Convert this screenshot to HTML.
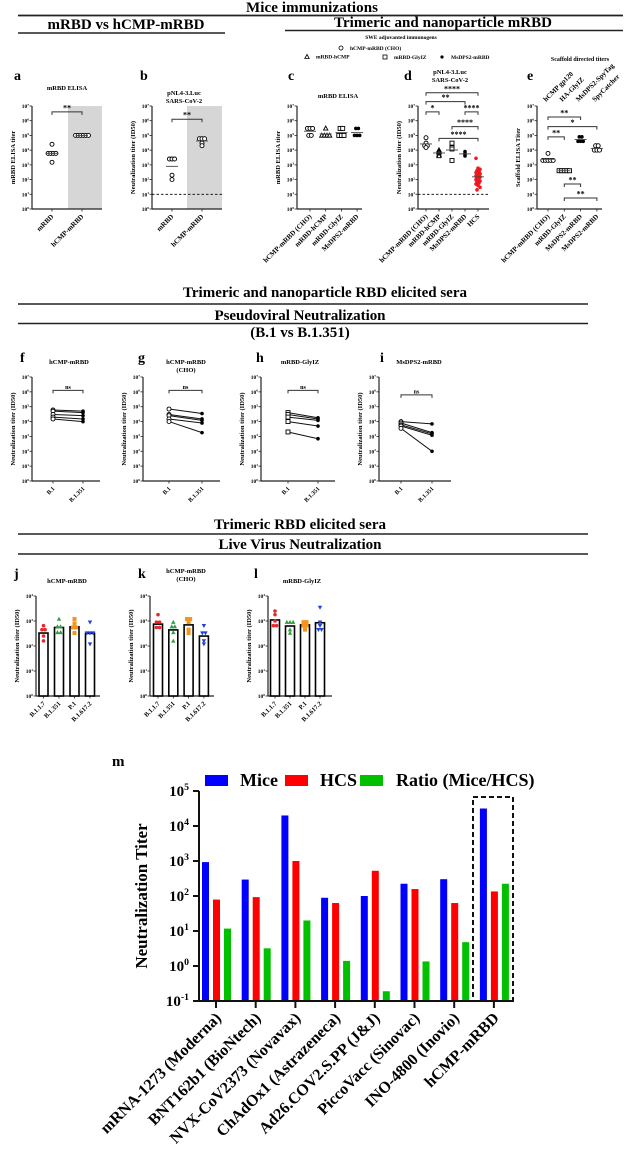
<!DOCTYPE html>
<html><head><meta charset="utf-8"><style>
html,body{margin:0;padding:0;background:#fff}
svg{display:block;font-family:"Liberation Serif",serif;font-weight:bold}
</style></head><body>
<svg id="fig" width="625" height="1163" viewBox="0 0 625 1163" xmlns="http://www.w3.org/2000/svg">
<g>
<text x="312" y="12" text-anchor="middle" font-size="15" textLength="132">Mice immunizations</text>
<line x1="18" y1="15.5" x2="623" y2="15.5" stroke="#222" stroke-width="1.8"/>
<text x="126" y="29" text-anchor="middle" font-size="15" textLength="157">mRBD vs hCMP-mRBD</text>
<line x1="18" y1="33" x2="225" y2="33" stroke="#222" stroke-width="1.5"/>
<text x="443" y="27" text-anchor="middle" font-size="15" textLength="218">Trimeric and nanoparticle mRBD</text>
<line x1="285" y1="30.5" x2="623" y2="30.5" stroke="#222" stroke-width="1.5"/>
<text x="401" y="39" text-anchor="middle" font-size="5.5">SWE adjuvanted immunogens</text>
<circle cx="341" cy="48" r="2" fill="none" stroke="#000" stroke-width="0.8"/><text x="350" y="50" font-size="5.5">hCMP-mRBD (CHO)</text>
<path d="M307,54.5 L309.2,58.5 L304.8,58.5Z" fill="none" stroke="#000" stroke-width="0.8"/><text x="316" y="58.5" font-size="5.5">mRBD-hCMP</text>
<rect x="383" y="55" width="4" height="4" fill="none" stroke="#000" stroke-width="0.8"/><text x="394" y="59" font-size="5.5">mRBD-GlyIZ</text>
<circle cx="442" cy="57" r="1.6" fill="#000"/><text x="451" y="59" font-size="5.5">MsDPS2-mRBD</text>
<text x="580" y="61" text-anchor="middle" font-size="6">Scaffold directed titers</text>
<text x="325" y="297" text-anchor="middle" font-size="15" textLength="284">Trimeric and nanoparticle RBD elicited sera</text>
<line x1="18" y1="304" x2="588" y2="304" stroke="#222" stroke-width="1.6"/>
<text x="300" y="320" text-anchor="middle" font-size="15" textLength="171">Pseudoviral Neutralization</text>
<line x1="18" y1="323.5" x2="588" y2="323.5" stroke="#222" stroke-width="1.6"/>
<text x="300" y="337" text-anchor="middle" font-size="15">(B.1 vs B.1.351)</text>
<text x="300" y="529" text-anchor="middle" font-size="15" textLength="172">Trimeric RBD elicited sera</text>
<line x1="18" y1="534" x2="588" y2="534" stroke="#222" stroke-width="1.6"/>
<text x="300" y="549" text-anchor="middle" font-size="15" textLength="163">Live Virus Neutralization</text>
<line x1="18" y1="554" x2="588" y2="554" stroke="#222" stroke-width="1.6"/>
</g>
<g id="panels"></g>
</svg>
<script>
// ---------- data (titers) ----------
const aCats=["mRBD","hCMP-mRBD"];
const aVals=[[25000,6000,6000,6000,6000,1500],[1e5,1e5,1e5,1e5,1e5,1e5]];
const bCats=["mRBD","hCMP-mRBD"];
const bVals=[[2500,2500,2500,200,100],[60000,60000,60000,30000,20000]];
const cCats=["hCMP-mRBD (CHO)","mRBD-hCMP","mRBD-GlyIZ","MsDPS2-mRBD"];
const cVals=[[3e5,3e5,3e5,1e5,1e5],[3e5,1e5,1e5,1e5,1e5],[3e5,3e5,1e5,1e5,1e5],[3e5,3e5,1e5,1e5,1e5]];
const dCats=["hCMP-mRBD (CHO)","mRBD-hCMP","mRBD-GlyIZ","MsDPS2-mRBD","HCS"];
const dVals=[[70000,30000,20000,20000,15000],[10000,8000,7000,5000,4000],[30000,15000,12000,2000],[8000,6000,5000,4000],
 [2800,600,500,400,350,300,280,250,220,200,180,160,150,130,120,100,90,80,70,60,50,40,30,20]];
const eCats=["hCMP-mRBD (CHO)","mRBD-GlyIZ","MsDPS2-mRBD","MsDPS2-mRBD"];
const eTopCats=["hCMP gp120","HA-GlyIZ","MsDPS2-SpyTag","SpyCatcher"];
const eVals=[[6000,2000,2000,2000,2000,2000],[400,400,400,400,400],[80000,80000,40000,40000,40000],[20000,20000,10000,10000,10000]];
const pairCats=["B.1","B.1.351"];
const fB1=[60000,50000,30000,20000,15000], fB1351=[50000,40000,25000,15000,10000];
const gB1=[70000,30000,25000,15000,10000], gB1351=[35000,15000,12000,8000,1800];
const hB1=[40000,30000,20000,10000,2000], hB1351=[18000,15000,12000,5000,700];
const iB1=[10000,8000,6000,5000,3500], iB1351=[7000,1800,1500,1200,100];
const liveCats=["B.1.1.7","B.1.351","P.1","B.1.617.2"];
const jMeans=[330,550,580,320];
const jPts=[[650,450,450,250,160],[1200,600,600,350,350],[1200,800,550,550,330],[900,330,330,330,120]];
const kMeans=[750,440,700,250];
const kPts=[[1800,900,900,550,550],[900,600,600,350,160],[1200,1200,900,450,330],[650,330,330,160,120]];
const lMeans=[1100,630,700,850];
const lPts=[[2500,1800,1000,650,650],[900,900,900,450,330],[900,900,650,650,450],[3500,900,650,450,450]];
const mCats=["mRNA-1273 (Moderna)","BNT162b1 (BioNtech)","NVX-CoV2373 (Novavax)","ChAdOx1 (Astrazeneca)","Ad26.COV2.S.PP (J&J)","PiccoVacc (Sinovac)","INO-4800 (Inovio)","hCMP-mRBD"];
const mMice=[930,295,20000,89,100,224,302,31600];
const mHCS=[79,93,1000,63,525,158,63,135];
const mRatio=[11.7,3.2,20,1.4,0.19,1.35,4.8,224];
const mTicks=[-1,0,1,2,3,4,5];
const liveColors=["#e8262b","#2e9e3e","#f7941d","#1f3fdb"];

// ---------- helpers ----------
const NS="http://www.w3.org/2000/svg";
const root=document.getElementById('panels');
function el(tag,attrs,parent){const e=document.createElementNS(NS,tag);for(const k in attrs)e.setAttribute(k,attrs[k]);(parent||root).appendChild(e);return e;}
function txt(x,y,s,size,anchor,parent,extra){const t=el('text',Object.assign({x:x,y:y,'font-size':size,'text-anchor':anchor||'start'},extra||{}),parent);t.textContent=s;return t;}
function pow(x,y,e,size,parent){const t=el('text',{x:x,y:y,'font-size':size,'text-anchor':'end'},parent);
 const a=document.createElementNS(NS,'tspan');a.textContent='10';t.appendChild(a);
 const b=document.createElementNS(NS,'tspan');b.setAttribute('dy',-size*0.4);b.setAttribute('font-size',size*0.65);b.textContent=e;t.appendChild(b);return t;}
function yScale(top,bot,minE,maxE){return v=>bot-(Math.log10(v)-minE)/(maxE-minE)*(bot-top);}
function axes(g,L,minE,maxE,cats,ytitle,fs){
 const y=yScale(L.top,L.bot,minE,maxE);
 el('line',{x1:L.ax,y1:L.top,x2:L.ax,y2:L.bot,stroke:'#222','stroke-width':1.2},g);
 el('line',{x1:L.ax,y1:L.bot,x2:L.end,y2:L.bot,stroke:'#222','stroke-width':1.2},g);
 for(let e=minE;e<=maxE;e++){const yy=y(Math.pow(10,e));
  el('line',{x1:L.ax-2.5,y1:yy,x2:L.ax,y2:yy,stroke:'#222','stroke-width':0.8},g);
  pow(L.ax-3,yy+2,e,5.5,g);}
 cats.forEach((c,i)=>{const cx=L.cx(i);
  el('line',{x1:cx,y1:L.bot,x2:cx,y2:L.bot+2.5,stroke:'#222','stroke-width':0.8},g);
  const t=txt(cx+2,L.bot+8,c,fs||7,'end',g,{transform:`rotate(-45 ${cx+2} ${L.bot+8})`});
  
  });
 const yt=txt(L.ax-17,(L.top+L.bot)/2,ytitle,6.5,'middle',g,{transform:`rotate(-90 ${L.ax-17} ${(L.top+L.bot)/2})`});
 
 
 return y;}
function marker(g,type,x,y,color){
 color=color||'#000';
 if(type==='o')return el('circle',{cx:x,cy:y,r:2,fill:'#fff',stroke:color,'stroke-width':0.9},g);
 if(type==='t')return el('path',{d:`M${x},${y-2.3} L${x+2.2},${y+1.7} L${x-2.2},${y+1.7}Z`,fill:'#fff',stroke:color,'stroke-width':0.9},g);
 if(type==='s')return el('rect',{x:x-2,y:y-2,width:4,height:4,fill:'#fff',stroke:color,'stroke-width':0.9},g);
 if(type==='T')return el('path',{d:`M${x},${y-2.3} L${x+2.2},${y+1.7} L${x-2.2},${y+1.7}Z`,fill:color},g);
 if(type==='V')return el('path',{d:`M${x},${y+2.3} L${x+2.2},${y-1.7} L${x-2.2},${y-1.7}Z`,fill:color},g);
 if(type==='S')return el('rect',{x:x-2,y:y-2,width:4,height:4,fill:color},g);
 return el('circle',{cx:x,cy:y,r:1.8,fill:color},g);}
function spread(n,i,w){return n<=1?0:(i-(n-1)/2)*w;}
function jitter(vals,i){
 const same=vals.filter(v=>v===vals[i]).length; const idx=vals.slice(0,i).filter(v=>v===vals[i]).length;
 return spread(same,idx,2.6);}
function gmean(a){return Math.pow(10,a.reduce((s,v)=>s+Math.log10(v),0)/a.length);}
function sig(g,L,y,i,j,lev,label){const yy=L.top+(L.bot-L.top)*(1-lev/7);
 const x1=L.cx(i),x2=L.cx(j);
 el('path',{d:`M${x1},${yy+3} V${yy} H${x2} V${yy+3}`,fill:'none',stroke:'#333','stroke-width':1},g);
 txt((x1+x2)/2,yy-1.5,label,label==='ns'?6:8,'middle',g);}
function scatterPanel(name,L,cats,vals,types,title,ytitle,opts){
 const g=el('g',{});
 
 
 opts=opts||{};
 if(opts.shade){el('rect',{x:opts.shade[0],y:L.top,width:opts.shade[1]-opts.shade[0],height:L.bot-L.top,fill:'#d6d6d6'},g);}
 const y=axes(g,L,0,7,cats,ytitle,7);
 if(opts.dash)el('line',{x1:L.ax,y1:y(10),x2:L.end,y2:y(10),stroke:'#000','stroke-width':0.9,'stroke-dasharray':'2.5,2'},g);
 vals.forEach((arr,i)=>{const cx=L.cx(i);
  arr.forEach((v,k)=>{const m=marker(g,types[i],cx+jitter(arr,k)+(opts.hcs&&i===4?((k*7)%5-2):0),y(v),opts.hcs&&i===4?'#f0181c':null);
   
   });
  const gm=gmean(arr);
  el('line',{x1:cx-6,y1:y(gm),x2:cx+6,y2:y(gm),stroke:'#444','stroke-width':0.9},g);});
 (title||[]).forEach((t,k)=>txt(opts.tx,opts.ty+k*8,t,6.5,'middle',g));
 (opts.sig||[]).forEach(s=>sig(g,L,y,s[0],s[1],s[2],s[3]));
 txt(opts.lx,opts.ly,opts.letter,14,'start',g);
 return g;}

function lay(ax,end,c0,step,top,bot){return {ax:ax,end:end,top:top,bot:bot,cx:i=>c0+i*step};}
scatterPanel('panel-a',lay(32,102,52,30,106,209),aCats,aVals,['o','o'],['mRBD ELISA'],'mRBD ELISA titer',
 {shade:[68,102],tx:67,ty:90,sig:[[0,1,6.6,'**']],lx:14,ly:80,letter:'a'});
scatterPanel('panel-b',lay(152,222,172,30,106,209),bCats,bVals,['o','o'],['pNL4-3.Luc','SARS-CoV-2'],'Neutralization titer (ID50)',
 {shade:[187,222],dash:true,tx:184,ty:95,sig:[[0,1,6.1,'**']],lx:140,ly:80,letter:'b'});
scatterPanel('panel-c',lay(297,362,310,15.7,106,209),cCats,cVals,['o','t','s','d'],['mRBD ELISA'],'mRBD ELISA titer',
 {tx:338,ty:98,lx:288,ly:80,letter:'c'});
scatterPanel('panel-d',lay(418,489,426,13,106,209),dCats,dVals,['o','t','s','d','d'],['pNL4-3.Luc','SARS-CoV-2'],'Neutralization titer (ID50)',
 {hcs:true,dash:true,tx:450,ty:74,lx:404,ly:80,letter:'d',sig:[[0,4,7.9,'****'],[0,3,7.3,'**'],[0,1,6.6,'*'],[3,4,6.6,'****'],[2,4,5.6,'****'],[1,4,4.8,'****']]});
const gE=scatterPanel('panel-e',lay(537,602,548,16.3,106,209),eCats,eVals,['o','s','d','o'],[],'Scaffold ELISA Titer',
 {lx:527,ly:80,letter:'e',sig:[[0,2,6.25,'**'],[0,3,5.6,'*'],[0,1,4.9,'**'],[1,2,1.7,'**'],[1,3,0.75,'**']]});
eTopCats.forEach((c,i)=>{const x=548+i*16.3;const t=txt(x-2,102,c,7,'start',gE,{transform:`rotate(-45 ${x-2} 102)`});
 
 });

function pairPanel(name,L,b1,b2,type,title,letter,lx,ly,tx,nsLev){
 const g=el('g',{});
 
 
 const y=axes(g,L,0,7,pairCats,'Neutralization titer (ID50)',6);
 b1.forEach((v,k)=>{const l=el('line',{x1:L.cx(0),y1:y(v),x2:L.cx(1),y2:y(b2[k]),stroke:'#111','stroke-width':1},g);
  
  
  marker(g,type,L.cx(0),y(v)); marker(g,'d',L.cx(1),y(b2[k]));});
 sig(g,L,y,0,1,nsLev,'ns');
 title.forEach((t,k)=>txt(tx,364+k*8,t,6.5,'middle',g));
 txt(lx,ly,letter,14,'start',g);}
pairPanel('panel-f',lay(32,100,53,30,377,481),fB1,fB1351,'o',['hCMP-mRBD'],'f',20,362,69,6.1);
pairPanel('panel-g',lay(143,220,169,33,377,481),gB1,gB1351,'o',['hCMP-mRBD','(CHO)'],'g',138,362,186,6.1);
pairPanel('panel-h',lay(261,335,288,30,377,481),hB1,hB1351,'s',['mRBD-GlyIZ'],'h',256,362,300,6.1);
pairPanel('panel-i',lay(379,451,401,31,377,481),iB1,iB1351,'o',['MsDPS2-mRBD'],'i',380,362,419,5.8);

function livePanel(name,L,means,pts,title,letter,lx,tx){
 const g=el('g',{});
 
 
 const y=axes(g,L,0,4,liveCats,'Neutralization titer (ID50)',6.5);
 const shapes=['d','T','S','V'];
 means.forEach((m,i)=>{const cx=L.cx(i);
  const r=el('rect',{x:cx-4.5,y:y(m),width:9,height:L.bot-y(m),fill:'#fff',stroke:'#000','stroke-width':1.6},g);
  
  
  pts[i].forEach((v,k)=>marker(g,shapes[i],cx+jitter(pts[i],k)*1.2,y(v),liveColors[i]));});
 title.forEach((t,k)=>txt(tx,title.length>1?573+k*8:583,t,6.5,'middle',g));
 txt(lx,578,letter,14,'start',g);}
livePanel('panel-j',lay(36,100,43.5,15.5,596,696),jMeans,jPts,['hCMP-mRBD'],'j',14,67);
livePanel('panel-k',lay(150,214,158,15.3,596,696),kMeans,kPts,['hCMP-mRBD','(CHO)'],'k',138,186);
livePanel('panel-l',lay(268,332,275,15,596,696),lMeans,lPts,['mRBD-GlyIZ'],'l',254,302);

(function(){
 const g=el('g',{});
 
 
 const ax=199,end=513,top=791,bot=1001,c0=216,step=39.7;
 const y=v=>bot-(Math.log10(v)+1)/6*(bot-top);
 txt(112,766,'m',15,'start',g);
 const leg=[['Mice','#0000ff',205,240],['HCS','#ff0000',285,320],['Ratio (Mice/HCS)','#00c000',360,396]];
 leg.forEach(l=>{const r=el('rect',{x:l[2],y:775,width:23,height:11,fill:l[1]},g);
  
  
  const t=txt(l[3],786,l[0],18,'start',g);
  
  });
 const series=[[mMice,'#0000ff',-14],[mHCS,'#ff0000',-3],[mRatio,'#00c000',8]];
 series.forEach(s=>s[0].forEach((v,i)=>{const cx=c0+i*step;const yy=y(v);
  const r=el('rect',{x:cx+s[2],y:Math.min(yy,bot),width:7,height:Math.abs(bot-yy),fill:s[1]},g);
  
  }));
 el('line',{x1:ax,y1:top,x2:ax,y2:bot+1,stroke:'#111','stroke-width':2},g);
 el('line',{x1:ax-1,y1:bot,x2:end,y2:bot,stroke:'#111','stroke-width':2},g);
 mTicks.forEach(e=>{const yy=y(Math.pow(10,e));
  el('line',{x1:ax-6,y1:yy,x2:ax,y2:yy,stroke:'#111','stroke-width':2},g);
  pow(ax-10,yy+5,e,15,g);});
 const yt=txt(147,896,'Neutralization Titer',17,'middle',g,{transform:'rotate(-90 147 896)'});
 
 
 mCats.forEach((c,i)=>{const cx=c0+i*step;
  el('line',{x1:cx,y1:bot,x2:cx,y2:bot+7,stroke:'#111','stroke-width':2},g);
  const t=txt(cx+6,bot+18,c,16,'end',g,{transform:`rotate(-45 ${cx+6} ${bot+18})`});
  
  });
 const box=el('rect',{x:473,y:797,width:40,height:bot-797,fill:'none',stroke:'#111','stroke-width':2,'stroke-dasharray':'5,3'},g);
 
 
})();
</script>
</body></html>
